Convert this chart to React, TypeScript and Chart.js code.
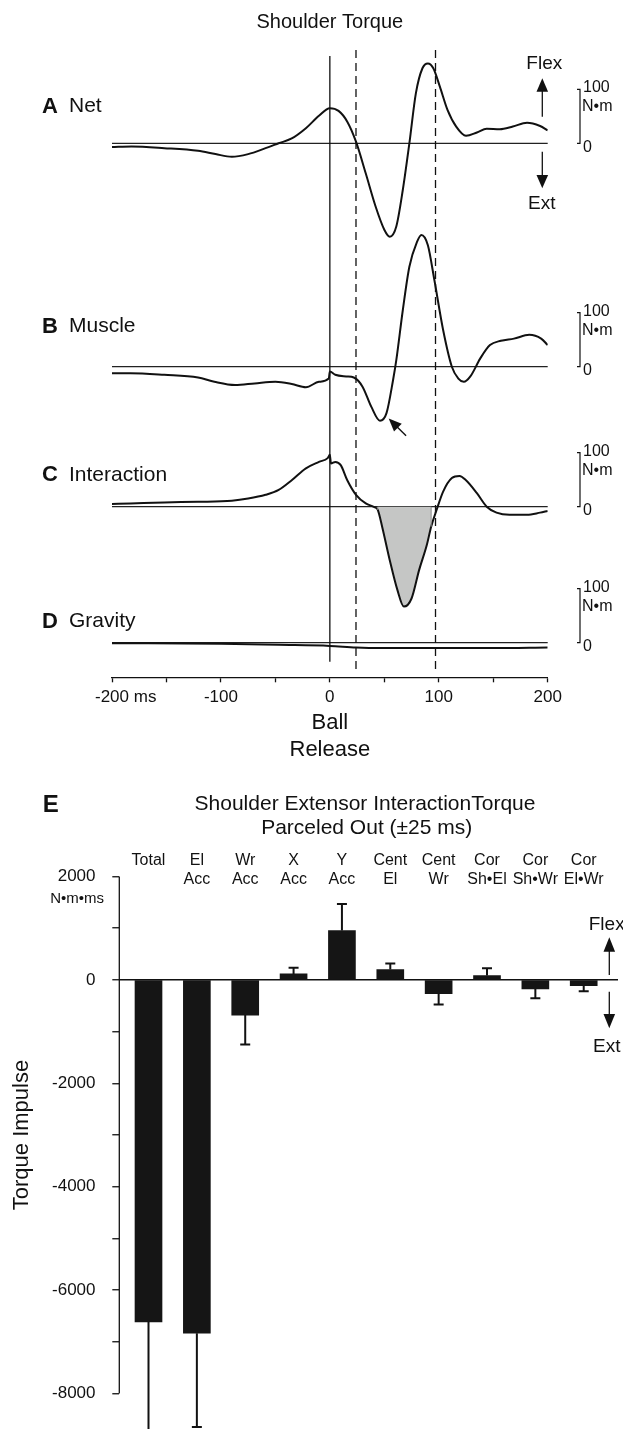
import React, { useEffect, useRef } from 'react';
import { Chart, registerables } from 'chart.js';

Chart.register(...registerables);

const FONT = '"Liberation Sans", Arial, Helvetica, sans-serif';
const INK = '#111111';

// ---------------- Panels A–D : shoulder torque (N·m) vs time re: ball release (ms)
const NET_MS = [-200, -182, -152, -121, -105, -90, -75, -59, -47, -35, -22, -10, 0, 8, 16, 24, 33, 42, 50, 55, 61, 67, 73, 79, 85, 90, 95, 101, 108, 116, 125, 135, 144, 156, 168, 181, 193, 200];
const NET_NM = [-7, -6, -9, -14, -20, -25, -20, -9, 0, 9, 28, 51, 65, 60, 40, 3, -56, -117, -160, -173, -154, -86, 0, 93, 139, 148, 139, 105, 62, 31, 14, 20, 27, 26, 31, 38, 32, 24];

const MUSCLE_MS = [-200, -183, -152, -121, -106, -87, -69, -50, -35, -22, -10, -1, 0, 5, 15, 22, 30, 38, 46, 52, 58, 61, 67, 73, 80, 84, 90, 96, 104, 112, 118, 123, 129, 138, 147, 157, 169, 183, 194, 200];
const MUSCLE_NM = [-12, -12, -15, -20, -28, -34, -31, -28, -32, -38, -28, -22, -9, -15, -18, -20, -37, -74, -100, -86, -25, 12, 105, 185, 231, 244, 225, 160, 68, 0, -22, -28, -18, 15, 40, 48, 52, 59, 52, 40];

const INTER_MS = [-200, -183, -152, -121, -90, -75, -59, -47, -35, -22, -10, -2, 0, 1, 5, 10, 16, 24, 33, 41, 44, 48, 55, 62, 68, 75, 82, 89, 93, 98, 104, 112, 119, 125, 135, 144, 153, 165, 181, 193, 200];
const INTER_NM = [5, 6, 8, 9, 11, 15, 22, 31, 49, 71, 83, 90, 96, 80, 83, 77, 49, 22, 6, -1, -6, -37, -99, -154, -185, -170, -117, -71, -37, -6, 28, 53, 57, 49, 25, 0, -11, -15, -15, -11, -8];

const GRAV_MS = [-200, -100, -47, 0, 24, 48, 100, 150, 200];
const GRAV_NM = [-1, -2, -4, -6, -9, -10, -10, -10, -9];

const PANEL_LETTERS = ['A', 'B', 'C', 'D'];
const PANEL_NAMES = ['Net', 'Muscle', 'Interaction', 'Gravity'];
const SCALE_BAR_NM = 100;
const SHADE_FROM_MS = 44;
const SHADE_TO_MS = 93;
const RELEASE_MS = 0;
const DASHED_MS = [24, 97];
const X_TICKS = [-200, -150, -100, -50, 0, 50, 100, 150, 200];
const MUSCLE_ARROW = { fromMs: 70, fromNm: -128, toMs: 54, toNm: -96 };

// ---------------- Panel E : torque impulse (N·m·ms)
const E_CATEGORIES = [['Total', ''], ['El', 'Acc'], ['Wr', 'Acc'], ['X', 'Acc'], ['Y', 'Acc'], ['Cent', 'El'], ['Cent', 'Wr'], ['Cor', 'Sh•El'], ['Cor', 'Sh•Wr'], ['Cor', 'El•Wr']];
const E_IMPULSE = [-6615, -6835, -680, 115, 955, 200, -265, 85, -175, -110];
const E_ERROR = [2600, 1815, 570, 120, 515, 115, 210, 140, 180, 110];
const E_Y_TICKS = [-8000, -7000, -6000, -5000, -4000, -3000, -2000, -1000, 0, 1000, 2000];

// ---------------- layout (pixels)
const W = 623;
const TOP_H = 780;
const TOP_AREA = { left: 112, right: 547.7, top: 30, bottom: 677.3 };
const X_AXIS_H = 90;
const X_TICK_LEN = 5;
const X_TICK_PAD = 4.8;
const PX_PER_NM = 0.54;
const PANEL_ZERO_PX = [143.3, 366.7, 506.7, 642.7];
const PANEL_LABEL_Y = [106.7, 326.7, 475, 621.7];
const BOT_TOP = 780;
const BOT_H = 649;
const BOT_AREA = { left: 119.3, right: 618, top: 876.5 - BOT_TOP };

const font = (size: number, bold = false) => `${bold ? 'bold ' : ''}${size}px ${FONT}`;

function txt(ctx: CanvasRenderingContext2D, s: string, x: number, y: number, size: number, align: CanvasTextAlign = 'left', bold = false) {
  ctx.font = font(size, bold);
  ctx.fillStyle = INK;
  ctx.textAlign = align;
  ctx.textBaseline = 'middle';
  ctx.fillText(s, x, y);
}

function line(ctx: CanvasRenderingContext2D, x1: number, y1: number, x2: number, y2: number) {
  ctx.beginPath();
  ctx.moveTo(x1, y1);
  ctx.lineTo(x2, y2);
  ctx.stroke();
}

function head(ctx: CanvasRenderingContext2D, tipX: number, tipY: number, fromX: number, fromY: number, len: number, half: number) {
  const a = Math.atan2(tipY - fromY, tipX - fromX);
  const bx = tipX - len * Math.cos(a);
  const by = tipY - len * Math.sin(a);
  ctx.beginPath();
  ctx.moveTo(tipX, tipY);
  ctx.lineTo(bx + half * Math.sin(a), by - half * Math.cos(a));
  ctx.lineTo(bx - half * Math.sin(a), by + half * Math.cos(a));
  ctx.closePath();
  ctx.fill();
}

const pts = (ms: number[], v: number[]) => ms.map((t, i) => ({ x: t, y: v[i] }));

function axisRange(zeroPx: number) {
  return {
    min: -(TOP_AREA.bottom - zeroPx) / PX_PER_NM,
    max: (zeroPx - TOP_AREA.top) / PX_PER_NM,
  };
}

const AXIS_IDS = ['yA', 'yB', 'yC', 'yD'];

const topPlugin = {
  id: 'topDecor',
  beforeDatasetsDraw(chart: any) {
    const { ctx, scales } = chart;
    const xs = scales.x;
    ctx.save();
    ctx.strokeStyle = '#222';
    ctx.lineWidth = 1.2;
    AXIS_IDS.forEach((id) => {
      const y = scales[id].getPixelForValue(0);
      line(ctx, xs.getPixelForValue(-200), y, xs.getPixelForValue(200), y);
    });
    ctx.strokeStyle = INK;
    ctx.lineWidth = 1.3;
    const xr = xs.getPixelForValue(RELEASE_MS);
    line(ctx, xr, 56, xr, 661.7);
    ctx.setLineDash([8, 5]);
    DASHED_MS.forEach((ms) => {
      const xd = xs.getPixelForValue(ms);
      line(ctx, xd, 50, xd, 669.3);
    });
    ctx.restore();
  },
  afterDatasetsDraw(chart: any) {
    const { ctx, scales } = chart;
    const xs = scales.x;
    ctx.save();
    // shaded region edges
    const meta = chart.getDatasetMeta(4);
    const y0 = scales.yC.getPixelForValue(0);
    ctx.strokeStyle = '#8c8c8c';
    ctx.lineWidth = 1;
    const first = meta.data[0];
    const last = meta.data[meta.data.length - 1];
    line(ctx, first.x, first.y, first.x, y0);
    line(ctx, last.x, last.y, last.x, y0);

    // muscle arrow
    ctx.strokeStyle = INK;
    ctx.fillStyle = INK;
    ctx.lineWidth = 1.4;
    const ax1 = xs.getPixelForValue(MUSCLE_ARROW.fromMs);
    const ay1 = scales.yB.getPixelForValue(MUSCLE_ARROW.fromNm);
    const ax2 = xs.getPixelForValue(MUSCLE_ARROW.toMs);
    const ay2 = scales.yB.getPixelForValue(MUSCLE_ARROW.toNm);
    line(ctx, ax1, ay1, ax2 + (ax1 - ax2) * 0.3, ay2 + (ay1 - ay2) * 0.3);
    head(ctx, ax2, ay2, ax1, ay1, 13, 5.5);

    // title
    txt(ctx, 'Shoulder Torque', xs.getPixelForValue(RELEASE_MS), 22.5, 20, 'center');

    // panel labels and scale bars
    AXIS_IDS.forEach((id, i) => {
      txt(ctx, PANEL_LETTERS[i], 42, PANEL_LABEL_Y[i], 22, 'left', true);
      txt(ctx, PANEL_NAMES[i], 69, PANEL_LABEL_Y[i], 21, 'left');
      const s = scales[id];
      const yt = s.getPixelForValue(SCALE_BAR_NM);
      const yz = s.getPixelForValue(0);
      ctx.strokeStyle = INK;
      ctx.lineWidth = 1.2;
      ctx.beginPath();
      ctx.moveTo(577, yt);
      ctx.lineTo(580, yt);
      ctx.lineTo(580, yz);
      ctx.lineTo(577, yz);
      ctx.stroke();
      txt(ctx, String(SCALE_BAR_NM), 583, yt - 1.5, 16, 'left');
      txt(ctx, 'N•m', 582, yt + 17.5, 16, 'left');
      txt(ctx, '0', 583, yz + 4, 16, 'left');
    });

    // Flex / Ext arrows
    ctx.strokeStyle = INK;
    ctx.fillStyle = INK;
    ctx.lineWidth = 1.3;
    const fx = 542.3;
    line(ctx, fx, 116.7, fx, 90);
    head(ctx, fx, 78.3, fx, 116.7, 13.4, 5.8);
    line(ctx, fx, 151.7, fx, 177);
    head(ctx, fx, 188.3, fx, 151.7, 13.4, 5.8);
    txt(ctx, 'Flex', 544.3, 64, 19, 'center');
    txt(ctx, 'Ext', 541.7, 204, 19, 'center');

    // "ms" unit after -200, on the tick-label line
    ctx.font = font(17);
    const w200 = ctx.measureText('-200').width;
    const wsp = ctx.measureText(' ').width;
    const labelY = xs.top + X_TICK_LEN + X_TICK_PAD + 17 * 1.2 / 2;
    txt(ctx, 'ms', xs.getPixelForValue(-200) + w200 / 2 + wsp, labelY, 17, 'left');
    ctx.restore();
  },
};

function topConfig(): any {
  const trace = (data: any[], axis: string) => ({
    type: 'line',
    data,
    yAxisID: axis,
    borderColor: INK,
    borderWidth: 2,
    pointRadius: 0,
    cubicInterpolationMode: 'monotone',
    fill: false,
    order: 0,
  });
  const inter = pts(INTER_MS, INTER_NM);
  const yScales: any = {};
  AXIS_IDS.forEach((id, i) => {
    yScales[id] = { type: 'linear', display: false, ...axisRange(PANEL_ZERO_PX[i]) };
  });
  return {
    type: 'line',
    data: {
      datasets: [
        trace(pts(NET_MS, NET_NM), 'yA'),
        trace(pts(MUSCLE_MS, MUSCLE_NM), 'yB'),
        trace(inter, 'yC'),
        trace(pts(GRAV_MS, GRAV_NM), 'yD'),
        {
          type: 'line',
          data: inter.filter((p) => p.x >= SHADE_FROM_MS && p.x <= SHADE_TO_MS),
          yAxisID: 'yC',
          borderColor: 'rgba(0,0,0,0)',
          borderWidth: 1,
          backgroundColor: '#c5c6c5',
          fill: 'origin',
          pointRadius: 0,
          cubicInterpolationMode: 'monotone',
          order: 5,
        },
      ],
    },
    options: {
      responsive: false,
      maintainAspectRatio: false,
      animation: false,
      events: [],
      layout: {
        padding: { left: TOP_AREA.left, right: W - TOP_AREA.right, top: TOP_AREA.top, bottom: TOP_H - TOP_AREA.bottom - X_AXIS_H },
        autoPadding: false,
      },
      plugins: { legend: { display: false }, tooltip: { enabled: false } },
      scales: {
        x: {
          type: 'linear',
          position: 'bottom',
          min: -200,
          max: 200,
          offset: false,
          afterBuildTicks: (s: any) => {
            s.ticks = X_TICKS.map((v) => ({ value: v }));
          },
          afterFit: (s: any) => {
            s.height = X_AXIS_H;
            s.paddingLeft = 0;
            s.paddingRight = 0;
          },
          ticks: {
            autoSkip: false,
            maxRotation: 0,
            padding: X_TICK_PAD,
            color: INK,
            font: { family: FONT, size: 17, lineHeight: 1.2 },
            callback: (v: number) => (v % 100 === 0 ? String(v) : ''),
          },
          grid: { drawOnChartArea: false, drawTicks: true, tickLength: X_TICK_LEN, tickColor: INK, tickWidth: 1.3 },
          border: { display: true, color: INK, width: 1.3 },
          title: {
            display: true,
            text: ['Ball', 'Release'],
            color: INK,
            font: { family: FONT, size: 22, lineHeight: 1.24 },
            padding: { top: 0, bottom: 3.7 },
          },
        },
        ...yScales,
      },
    },
    plugins: [topPlugin],
  };
}

const botPlugin = {
  id: 'botDecor',
  afterDatasetsDraw(chart: any) {
    const { ctx, chartArea, scales } = chart;
    const ys = scales.y;
    const meta = chart.getDatasetMeta(0);
    ctx.save();
    ctx.beginPath();
    ctx.rect(chartArea.left, chartArea.top - 60, chartArea.right - chartArea.left, chartArea.bottom - chartArea.top + 60);
    ctx.clip();
    ctx.strokeStyle = INK;
    ctx.lineWidth = 2;
    meta.data.forEach((bar: any, i: number) => {
      const v = E_IMPULSE[i];
      const end = v + Math.sign(v) * E_ERROR[i];
      const y1 = ys.getPixelForValue(v);
      const y2 = ys.getPixelForValue(end);
      line(ctx, bar.x, y1, bar.x, y2);
      line(ctx, bar.x - 5, y2, bar.x + 5, y2);
    });
    ctx.restore();
  },
  afterDraw(chart: any) {
    const { ctx, chartArea, scales } = chart;
    const ys = scales.y;
    const xs = scales.x;
    ctx.save();
    // y axis line (2000 .. -8000)
    ctx.strokeStyle = INK;
    ctx.lineWidth = 1.3;
    line(ctx, chartArea.left, ys.getPixelForValue(E_Y_TICKS[E_Y_TICKS.length - 1]), chartArea.left, ys.getPixelForValue(E_Y_TICKS[0]));

    // headings
    txt(ctx, 'E', 42.7, 25.7, 24, 'left', true);
    txt(ctx, 'Shoulder Extensor InteractionTorque', 365, 24.3, 21, 'center');
    txt(ctx, 'Parceled Out (±25 ms)', 366.7, 48.3, 21, 'center');

    // category labels
    E_CATEGORIES.forEach((lines, i) => {
      const x = xs.getPixelForValue(i);
      txt(ctx, lines[0], x, 80.7, 16, 'center');
      if (lines[1]) txt(ctx, lines[1], x, 100, 16, 'center');
    });

    // units + axis title
    txt(ctx, 'N•m•ms', 104, 119.3, 15, 'right');
    ctx.save();
    ctx.translate(22, 355);
    ctx.rotate(-Math.PI / 2);
    txt(ctx, 'Torque Impulse', 0, 0, 22, 'center');
    ctx.restore();

    // Flex / Ext arrows
    ctx.fillStyle = INK;
    ctx.lineWidth = 1.3;
    const fx = 609.3;
    line(ctx, fx, 195, fx, 170);
    head(ctx, fx, 157.3, fx, 195, 14.4, 5.8);
    line(ctx, fx, 211.7, fx, 236);
    head(ctx, fx, 248.3, fx, 211.7, 14.4, 5.8);
    txt(ctx, 'Flex', 606.7, 145, 19, 'center');
    txt(ctx, 'Ext', 606.7, 267, 19, 'center');
    ctx.restore();
  },
};

function botConfig(): any {
  return {
    type: 'bar',
    data: {
      datasets: [
        {
          data: E_IMPULSE.map((v, i) => ({ x: i, y: v })),
          backgroundColor: '#151515',
          borderWidth: 0,
          barThickness: 27,
        },
      ],
    },
    options: {
      responsive: false,
      maintainAspectRatio: false,
      animation: false,
      events: [],
      layout: { padding: { left: 0, right: W - BOT_AREA.right, top: BOT_AREA.top, bottom: 0 }, autoPadding: false },
      plugins: { legend: { display: false }, tooltip: { enabled: false } },
      scales: {
        x: {
          type: 'linear',
          min: -0.604,
          max: 9.709,
          offset: false,
          display: false,
          grid: { offset: false },
        },
        y: {
          type: 'linear',
          min: -8687,
          max: 2000,
          afterBuildTicks: (s: any) => {
            s.ticks = E_Y_TICKS.map((v) => ({ value: v }));
          },
          afterFit: (s: any) => {
            s.width = BOT_AREA.left;
            s.paddingTop = 0;
            s.paddingBottom = 0;
          },
          ticks: {
            autoSkip: false,
            padding: 16.8,
            color: INK,
            font: { family: FONT, size: 17 },
            callback: (v: number) => (v % 2000 === 0 ? String(v) : ''),
          },
          grid: {
            drawOnChartArea: true,
            drawTicks: true,
            tickLength: 7,
            tickColor: INK,
            tickWidth: 1.3,
            lineWidth: 1.5,
            color: (c: any) => (c.tick && c.tick.value === 0 ? INK : 'rgba(0,0,0,0)'),
          },
          border: { display: false },
        },
      },
    },
    plugins: [botPlugin],
  };
}

export default function App() {
  const topRef = useRef<HTMLCanvasElement>(null);
  const botRef = useRef<HTMLCanvasElement>(null);
  useEffect(() => {
    const c1 = new Chart(topRef.current as HTMLCanvasElement, topConfig());
    const c2 = new Chart(botRef.current as HTMLCanvasElement, botConfig());
    return () => {
      c1.destroy();
      c2.destroy();
    };
  }, []);
  return (
    <div style={{ position: 'absolute', left: 0, top: 0, width: W, height: 1429, background: '#ffffff', overflow: 'hidden' }}>
      <canvas ref={topRef} width={W} height={TOP_H} style={{ position: 'absolute', left: 0, top: 0 }} />
      <canvas ref={botRef} width={W} height={BOT_H} style={{ position: 'absolute', left: 0, top: BOT_TOP }} />
    </div>
  );
}
